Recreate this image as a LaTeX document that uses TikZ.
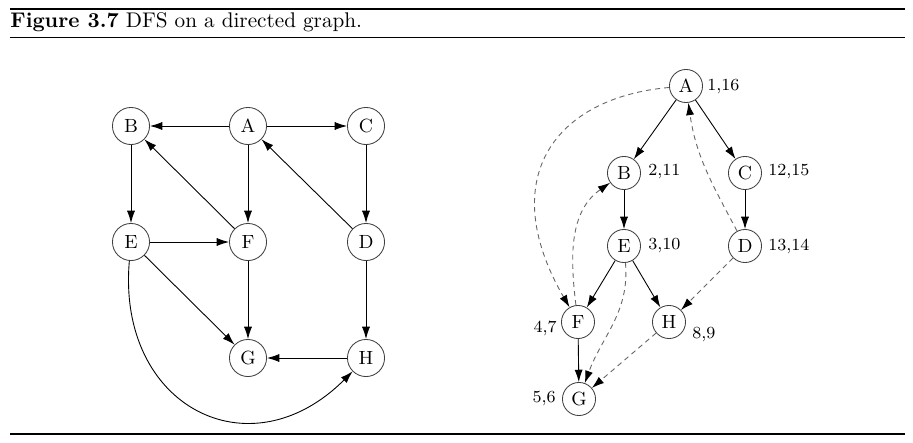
\documentclass[tikz,border=0pt]{standalone}
\usepackage{amsmath}
\usetikzlibrary{arrows.meta}

\begin{document}
\begin{tikzpicture}[x=0.4717pt,y=0.4717pt,
  vtx/.style={circle,draw=black!75,line width=0.4pt,minimum size=17.5pt,inner sep=0pt,font=\small},
  tvtx/.style={vtx,minimum size=15.6pt},
  arc/.style={-{Latex[length=5.8pt,width=3.8pt,color=black]},line width=0.42pt},
  back/.style={arc,draw=black!60,dash pattern=on 2.4pt off 1.9pt},
  num/.style={font=\footnotesize,inner sep=0pt}]
  \useasboundingbox (0,0) rectangle (913,-443);
  \draw[line width=0.9pt] (10,-9) -- (905,-9);
  \draw[line width=0.5pt] (10,-37.5) -- (905,-37.5);
  \draw[line width=0.8pt] (10,-434) -- (905,-434);
  \node[anchor=base west,inner sep=0pt] (cap) at (10,-27.5) {\textbf{Figure 3.7} DFS on a directed graph.};

  \node[vtx] (A) at (248,-126) {A};
  \node[vtx] (B) at (131,-126) {B};
  \node[vtx] (C) at (366,-126) {C};
  \node[vtx] (E) at (131,-242) {E};
  \node[vtx] (F) at (248,-242) {F};
  \node[vtx] (D) at (366,-242) {D};
  \node[vtx] (G) at (248,-358) {G};
  \node[vtx] (H) at (366,-358) {H};
  \path[arc] (A) edge (B) edge (C) edge (F);
  \path[arc] (B) edge (E);
  \path[arc] (C) edge (D);
  \path[arc] (E) edge (F) edge (G);
  \path[arc] (F) edge (B) edge (G);
  \path[arc] (D) edge (A) edge (H);
  \path[arc] (H) edge (G);
  \path[arc] (E) edge [out=-95,in=-135,looseness=1.5] (H);

  \node[tvtx] (a) at (686,-86) {A};
  \node[tvtx] (b) at (624,-173) {B};
  \node[tvtx] (c) at (745,-173) {C};
  \node[tvtx] (e) at (624,-246) {E};
  \node[tvtx] (d) at (745,-246) {D};
  \node[tvtx] (f) at (578,-322) {F};
  \node[tvtx] (h) at (669,-322) {H};
  \node[tvtx] (g) at (579,-399) {G};
  \node[num,anchor=west] at (707,-87) {1,16};
  \node[num,anchor=west] at (648,-172) {2,11};
  \node[num,anchor=west] at (768,-172) {12,15};
  \node[num,anchor=west] at (648,-246) {3,10};
  \node[num,anchor=west] at (768,-246) {13,14};
  \node[num,anchor=east] at (557,-328) {4,7};
  \node[num,anchor=east] at (556,-399) {5,6};
  \node[num,anchor=west] at (692,-335) {8,9};
  \path[arc] (a) edge (b) edge (c);
  \path[arc] (b) edge (e);
  \path[arc] (c) edge (d);
  \path[arc] (e) edge (f) edge (h);
  \path[arc] (f) edge (g);
  \path[back] (a) edge [out=185,in=120,out looseness=1.2,in looseness=1.6] (f);
  \path[back] (f) edge [out=97,in=215] (b);
  \path[back] (e) edge [out=-85,in=70] (g);
  \path[back] (d) edge [out=118,in=-82] (a);
  \path[back] (d) edge (h);
  \path[back] (h) edge (g);
\end{tikzpicture}
\end{document}
